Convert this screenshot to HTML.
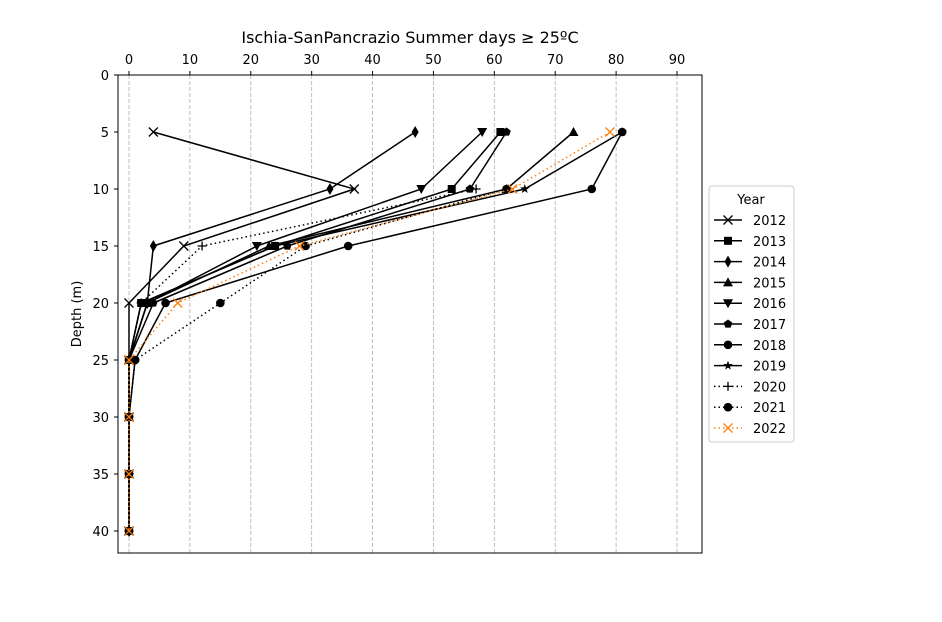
<!DOCTYPE html>
<html><head><meta charset="utf-8"><style>
body{margin:0;background:#fff}
svg{display:block;font-family:"DejaVu Sans","Liberation Sans",sans-serif}
</style></head><body>
<svg id="chart" width="942" height="622" xmlns="http://www.w3.org/2000/svg">
<rect width="942" height="622" fill="#fff"/>
<g id="grid"></g>
<g id="series"></g>
<rect x="118" y="75" width="584" height="478" fill="none" stroke="#000" stroke-width="1"/>
<g id="axes"></g>
<text x="410" y="43" font-size="16" text-anchor="middle">Ischia-SanPancrazio Summer days ≥ 25ºC</text>
<text transform="translate(81,314) rotate(-90)" font-size="13" text-anchor="middle">Depth (m)</text>
<g id="legend"></g>
</svg>
<script>
const depths=[5,10,15,20,25,30,35,40];
const years=["2012","2013","2014","2015","2016","2017","2018","2019","2020","2021","2022"];
const v2012=[4,37,9,0,0,0,0,0];
const v2013=[61,53,24,2,0,0,0,0];
const v2014=[47,33,4,3,0,0,0,0];
const v2015=[73,62,23,3,0,0,0,0];
const v2016=[58,48,21,3,0,0,0,0];
const v2017=[62,56,26,4,0,0,0,0];
const v2018=[81,76,36,6,1,0,0,0];
const v2019=[81,65,24,2,0,0,0,0];
const v2020=[null,57,12,2,0,0,0,0];
const v2021=[null,62,29,15,1,0,0,0];
const v2022=[79,63,28,8,0,0,0,0];
const xTicks=[0,10,20,30,40,50,60,70,80,90];
const yTicks=[0,5,10,15,20,25,30,35,40];
const seriesVals=[v2012,v2013,v2014,v2015,v2016,v2017,v2018,v2019,v2020,v2021,v2022];
const markers=["x","s","d","^","v","p","o","*","+","o","x"];
const colors=["#000","#000","#000","#000","#000","#000","#000","#000","#000","#000","#ff7f0e"];
const dashed=[0,0,0,0,0,0,0,0,1,1,1];
const X=v=>129+(v/90)*548;
const Y=d=>75+(d/40)*456;
const NS="http://www.w3.org/2000/svg";
function mk(t,a,p){const e=document.createElementNS(NS,t);for(const k in a)e.setAttribute(k,a[k]);p.appendChild(e);return e;}
const grid=document.getElementById('grid'),axes=document.getElementById('axes');
xTicks.forEach(t=>{
 const g=mk('line',{x1:X(t),x2:X(t),y1:75,y2:553,stroke:'#b0b0b0','stroke-dasharray':'4,2','stroke-width':0.8},grid);
 
 
 const tk=mk('line',{x1:X(t),x2:X(t),y1:75,y2:71,stroke:'#000'},axes);
 
 
 const tx=mk('text',{x:X(t),y:64,'font-size':13,'text-anchor':'middle'},axes);tx.textContent=t;
 
 
});
yTicks.forEach(t=>{
 const tk=mk('line',{x1:118,x2:114,y1:Y(t),y2:Y(t),stroke:'#000'},axes);
 
 
 const tx=mk('text',{x:109,y:Y(t)+5,'font-size':13,'text-anchor':'end'},axes);tx.textContent=t;
 
 
});
function marker(p,m,x,y,c){
 const s=4.5;let e;
 if(m==='x'){e=mk('path',{d:`M${x-s} ${y-s}L${x+s} ${y+s}M${x-s} ${y+s}L${x+s} ${y-s}`,stroke:c,'stroke-width':1.3,fill:'none'},p);}
 else if(m==='+'){e=mk('path',{d:`M${x-s} ${y}L${x+s} ${y}M${x} ${y-s}L${x} ${y+s}`,stroke:c,'stroke-width':1.3},p);}
 else if(m==='s')e=mk('rect',{x:x-4,y:y-4,width:8,height:8,fill:c},p);
 else if(m==='d')e=mk('polygon',{points:`${x},${y-6} ${x+3.5},${y} ${x},${y+6} ${x-3.5},${y}`,fill:c},p);
 else if(m==='^')e=mk('polygon',{points:`${x},${y-5} ${x+5},${y+4} ${x-5},${y+4}`,fill:c},p);
 else if(m==='v')e=mk('polygon',{points:`${x},${y+5} ${x+5},${y-4} ${x-5},${y-4}`,fill:c},p);
 else if(m==='p'){let pts=[];for(let i=0;i<5;i++){const a=-Math.PI/2+i*2*Math.PI/5;pts.push((x+4.5*Math.cos(a))+','+(y+4.5*Math.sin(a)));}e=mk('polygon',{points:pts.join(' '),fill:c},p);}
 else if(m==='*'){let pts=[];for(let i=0;i<10;i++){const r=i%2?2:5;const a=-Math.PI/2+i*Math.PI/5;pts.push((x+r*Math.cos(a))+','+(y+r*Math.sin(a)));}e=mk('polygon',{points:pts.join(' '),fill:c},p);}
 else e=mk('circle',{cx:x,cy:y,r:4.3,fill:c},p);
 return e;
}
const sg=document.getElementById('series');
seriesVals.forEach((vals,i)=>{
 const g=mk('g',{},sg);
 
 
 const pts=[];
 vals.forEach((v,j)=>{if(v!==null)pts.push(X(v)+','+Y(depths[j]));});
 const a={points:pts.join(' '),fill:'none',stroke:colors[i],'stroke-width':1.5};
 if(dashed[i])a['stroke-dasharray']='1.5,3';
 const pl=mk('polyline',a,g);
 
 
 vals.forEach((v,j)=>{if(v===null)return;const m=marker(g,markers[i],X(v),Y(depths[j]),colors[i]);
  
  });
});
const lg=document.getElementById('legend');


mk('rect',{x:709,y:186,width:85,height:256,rx:3,fill:'#fff',stroke:'#ccc'},lg);
const lt=mk('text',{x:751,y:204,'font-size':13,'text-anchor':'middle'},lg);lt.textContent='Year';


years.forEach((y,i)=>{
 const yy=220+i*20.8;
 const g=mk('g',{},lg);
 
 
 const a={x1:714,x2:742,y1:yy,y2:yy,stroke:colors[i],'stroke-width':1.5};
 if(dashed[i])a['stroke-dasharray']='1.5,3';
 mk('line',a,g);
 marker(g,markers[i],728,yy,colors[i]);
 const t=mk('text',{x:753,y:yy+5,'font-size':13},g);t.textContent=y;
});
</script>
</body></html>
